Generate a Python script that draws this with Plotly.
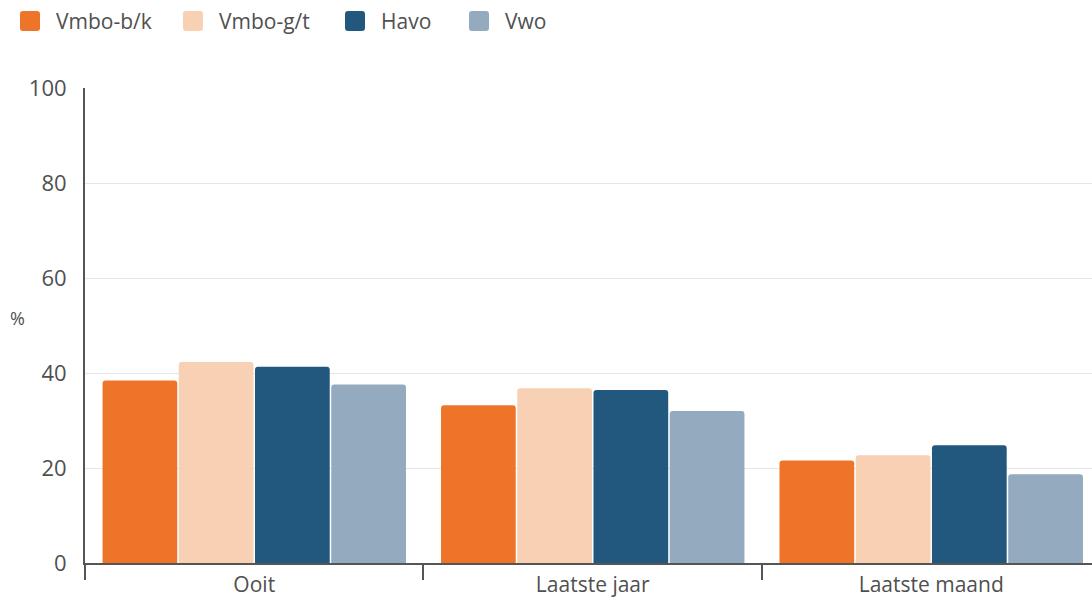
import plotly.graph_objects as go

categories = ["Ooit", "Laatste jaar", "Laatste maand"]
series_names = ["Vmbo-b/k", "Vmbo-g/t", "Havo", "Vwo"]
vmbo_bk = [38.4, 33.2, 21.6]
vmbo_gt = [42.3, 36.8, 22.7]
havo = [41.3, 36.4, 24.8]
vwo = [37.6, 32.0, 18.7]
colors = ["#EE742A", "#F8D0B4", "#22577E", "#93AABF"]
y_ticks = [0, 20, 40, 60, 80, 100]

FONT = "Open Sans"
TEXT = "#505050"
L, R, T, B, W, H = 85, 0, 88, 40, 1092, 603
PW, PH = W - L - R, H - T - B

fig = go.Figure()
for name, vals, col in zip(series_names, [vmbo_bk, vmbo_gt, havo, vwo], colors):
    fig.add_trace(go.Bar(
        name=name, x=categories, y=vals,
        marker=dict(color=col, line=dict(width=0)),
        hoverinfo="skip", showlegend=False,
    ))

# Manual legend (rounded squares + labels) placed in pixel space above the plot
legend_x = [20, 183, 345, 469]
shapes, annotations = [], []
def px_x(p):
    return (p - L) / PW
def px_y(p):
    return (H - B - p) / PH
for name, col, x0 in zip(series_names, colors, legend_x):
    y0, y1, x1 = 11, 31, x0 + 20
    r = 3
    path = (f"M {px_x(x0+r)} {px_y(y0)} L {px_x(x1-r)} {px_y(y0)} Q {px_x(x1)} {px_y(y0)} {px_x(x1)} {px_y(y0+r)} "
            f"L {px_x(x1)} {px_y(y1-r)} Q {px_x(x1)} {px_y(y1)} {px_x(x1-r)} {px_y(y1)} "
            f"L {px_x(x0+r)} {px_y(y1)} Q {px_x(x0)} {px_y(y1)} {px_x(x0)} {px_y(y1-r)} "
            f"L {px_x(x0)} {px_y(y0+r)} Q {px_x(x0)} {px_y(y0)} {px_x(x0+r)} {px_y(y0)} Z")
    shapes.append(dict(type="path", path=path, xref="paper", yref="paper",
                       fillcolor=col, line=dict(width=0), layer="above"))
    annotations.append(dict(text=name, xref="paper", yref="paper", x=px_x(x0 + 34), y=px_y(21),
                            xanchor="left", yanchor="middle", showarrow=False,
                            font=dict(size=21, color=TEXT, family=FONT)))

annotations.append(dict(text="%", xref="paper", yref="paper", x=px_x(17), y=px_y(318),
                        xanchor="center", yanchor="middle", showarrow=False,
                        font=dict(size=18, color=TEXT, family=FONT)))

fig.update_layout(
    width=W, height=H,
    paper_bgcolor="white", plot_bgcolor="white",
    margin=dict(l=L, r=R, t=T, b=B, autoexpand=False),
    barmode="group", bargap=0.099, bargroupgap=0.02,
    barcornerradius=3,
    font=dict(family=FONT, size=20, color=TEXT),
    showlegend=False,
    xaxis=dict(
        showline=True, linecolor="#555", linewidth=2,
        ticks="outside", tickson="boundaries", ticklen=15, tickcolor="#555", tickwidth=2,
        tickfont=dict(size=21, color=TEXT), showgrid=False, ticklabelstandoff=2,
        range=[-0.5, 2.475], automargin=False,
    ),
    yaxis=dict(
        range=[0, 100], tickvals=y_ticks,
        showline=True, linecolor="#555", linewidth=2,
        showgrid=True, gridcolor="#E6E6E6", gridwidth=1,
        tickfont=dict(size=22, color=TEXT), ticks="", ticklabelstandoff=12,
        zeroline=False, automargin=False,
    ),
    shapes=shapes,
    annotations=annotations,
)

fig.write_html("out.html", config={"displayModeBar": False, "staticPlot": True},
               post_script="document.body.style.margin='0';document.body.style.padding='0';window.dispatchEvent(new Event('resize'));")
